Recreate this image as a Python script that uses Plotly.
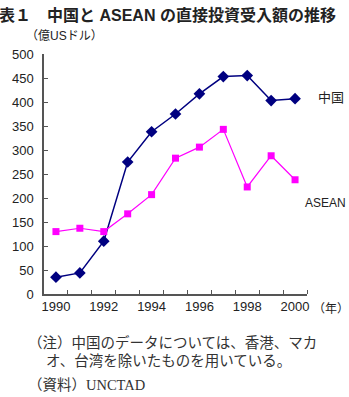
import plotly.graph_objects as go

years = [1990, 1991, 1992, 1993, 1994, 1995, 1996, 1997, 1998, 1999, 2000]
china = [35, 44, 110, 275, 338, 375, 417, 453, 455, 403, 407]
asean = [130, 137, 130, 167, 207, 283, 306, 343, 223, 288, 238]
xtick_vals = [1990, 1992, 1994, 1996, 1998, 2000]
ytick_vals = [0, 50, 100, 150, 200, 250, 300, 350, 400, 450, 500]

SANS = "Liberation Sans, Arial, Noto Sans CJK JP"
SERIF = "Liberation Serif, Noto Sans CJK JP"

W, H = 349, 397
L, R, T, B = 42, 42, 54, 103
PW, PH = W - L - R, H - T - B

fig = go.Figure()
fig.add_trace(go.Scatter(
    x=years, y=china, mode="lines+markers", name="中国",
    line=dict(color="#000080", width=1.5),
    marker=dict(symbol="diamond", size=9, color="#000080"),
    cliponaxis=False,
))
fig.add_trace(go.Scatter(
    x=years, y=asean, mode="lines+markers", name="ASEAN",
    line=dict(color="#FF00FF", width=1.2),
    marker=dict(symbol="square", size=7, color="#FF00FF"),
    cliponaxis=False,
))

fig.update_layout(
    width=W, height=H,
    margin=dict(l=L, r=R, t=T, b=B),
    paper_bgcolor="white", plot_bgcolor="white",
    showlegend=False,
    font=dict(family=SANS, size=13, color="#222"),
)
fig.update_xaxes(
    range=[1989.5, 2000.5], tickmode="array", tickvals=xtick_vals,
    ticktext=[str(v) for v in xtick_vals], ticks="", ticklen=0,
    showline=True, linecolor="#555", linewidth=1.5, showgrid=False,
    zeroline=False, tickfont=dict(size=13, family=SANS, color="#222"),
    minor=dict(tickmode="array", tickvals=[y + 0.5 for y in years[:-1]] + [2000.5],
               ticks="inside", ticklen=4, tickcolor="#555", tickwidth=1, showgrid=False),
)
fig.update_yaxes(
    range=[0, 500], tickmode="array", tickvals=ytick_vals,
    ticks="inside", ticklen=4, tickcolor="#555", tickwidth=1,
    showline=True, linecolor="#555", linewidth=1.5, showgrid=False,
    zeroline=False, tickfont=dict(size=13, family=SANS, color="#222"),
    ticklabelstandoff=6,
)

anns = [
    dict(text="<b>図表１　中国と ASEAN の直接投資受入額の推移</b>", x=-21, y=15,
         font=dict(size=16, family=SANS, color="#222")),
    dict(text="（億USドル）", x=22, y=36, font=dict(size=12, family=SANS, color="#222")),
    dict(text="（年）", x=311, y=309, font=dict(size=12, family=SANS, color="#222")),
    dict(text="中国", x=316, y=97, font=dict(size=13, family=SANS, color="#222")),
    dict(text="ASEAN", x=303, y=203, font=dict(size=12, family=SANS, color="#222")),
    dict(text="（注）中国のデータについては、香港、マカ", x=24, y=342,
         font=dict(size=14.5, family=SERIF, color="#333")),
    dict(text="オ、台湾を除いたものを用いている。", x=42, y=361,
         font=dict(size=14.5, family=SERIF, color="#333")),
    dict(text="（資料）UNCTAD", x=24, y=385, font=dict(size=14.5, family=SERIF, color="#333")),
]
for a in anns:
    fig.add_annotation(
        text=a["text"], x=(a["x"] - L) / PW, y=(H - B - a["y"]) / PH,
        xref="paper", yref="paper", xanchor="left", yanchor="middle",
        showarrow=False, font=a["font"],
    )

fig.write_html("out.html")
